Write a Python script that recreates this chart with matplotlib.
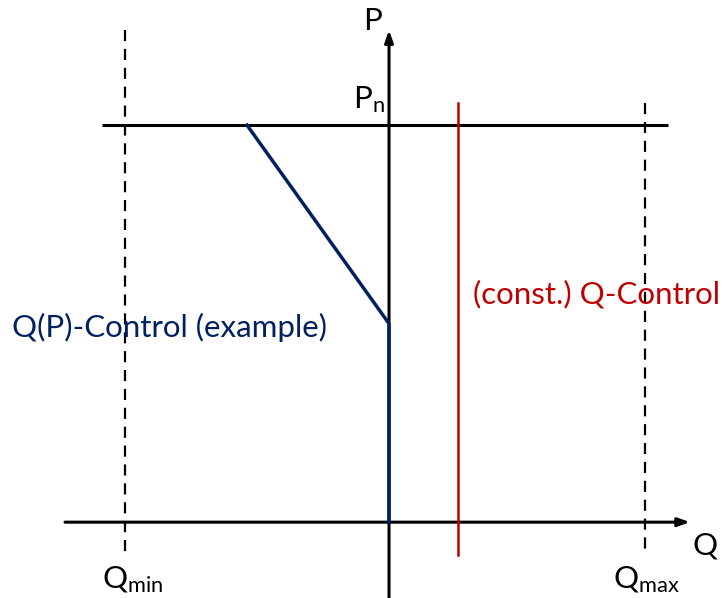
import matplotlib.pyplot as plt

plt.rcParams['font.family'] = ['Lato', 'DejaVu Sans']
plt.rcParams['mathtext.fontset'] = 'custom'
plt.rcParams['mathtext.rm'] = 'Lato'
plt.rcParams['mathtext.it'] = 'Lato'

# diagram values (Q normalised to Qmax = 1, P normalised to Pn = 1)
q_min = -1.03
q_max = 1.0
q_const = 0.27
p_n = 1.0
# Q(P) characteristic: vertical at Q=0 up to the kink, then slope to Pn
qp_q = [0.0, 0.0, -0.555]
qp_p = [0.0, 0.50, 1.0]

navy = '#002060'
red = '#C00000'

fig = plt.figure(figsize=(7.23, 5.98), dpi=100)
ax = fig.add_axes([0, 0, 1, 1])
ax.set_xlim(-1.52, 1.305)
ax.set_ylim(-0.191, 1.315)
ax.axis('off')

# axes with arrows
ax.annotate('', xy=(1.176, 0), xytext=(-1.266, 0),
            arrowprops=dict(arrowstyle='-|>,head_length=0.7,head_width=0.25', color='black', lw=2.2, shrinkA=0, shrinkB=0))
ax.annotate('', xy=(0, 1.239), xytext=(0, -0.191),
            arrowprops=dict(arrowstyle='-|>,head_length=0.7,head_width=0.25', color='black', lw=2.2, shrinkA=0, shrinkB=0))

# Pn line
ax.plot([-1.121, 1.09], [p_n, p_n], color='black', lw=2.2, solid_capstyle='butt')

# Qmin / Qmax limits (drawn top-down so the dash pattern starts at the top)
ax.plot([q_min, q_min], [1.239, -0.076], color='black', lw=1.6, ls=(0, (5, 3.5)))
ax.plot([q_max, q_max], [1.055, -0.083], color='black', lw=1.6, ls=(0, (5, 3.5)))

# const Q control
ax.plot([q_const, q_const], [-0.083, 1.055], color=red, lw=1.8, zorder=5)

# Q(P) control
ax.plot(qp_q, qp_p, color=navy, lw=2.5, zorder=6)

fs = 22.5
ax.text(-0.0625, 1.262, 'P', fontsize=fs, ha='center', va='center')
ax.text(-0.08, 1.063, r'$\mathregular{P_n}$', fontsize=fs, ha='center', va='center')
ax.text(1.234, -0.058, 'Q', fontsize=fs, ha='center', va='center')
ax.text(q_min + 0.03, -0.146, r'$\mathregular{Q_{min}}$', fontsize=fs, ha='center', va='center')
ax.text(q_max + 0.005, -0.146, r'$\mathregular{Q_{max}}$', fontsize=fs, ha='center', va='center')
ax.text(-1.473, 0.491, 'Q(P)-Control (example)', fontsize=fs, color=navy, ha='left', va='center')
ax.text(0.328, 0.574, '(const.) Q-Control', fontsize=fs, color=red, ha='left', va='center')

fig.savefig('out.png', dpi=100)
